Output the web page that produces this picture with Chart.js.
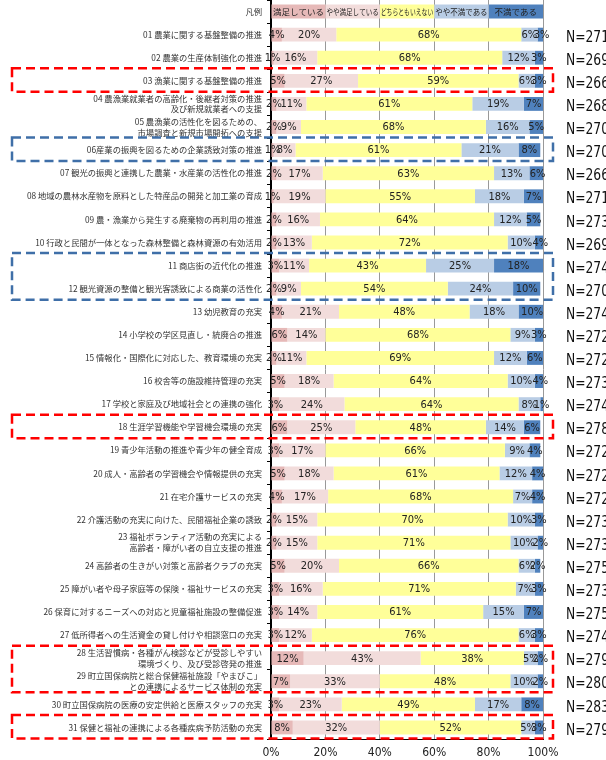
<!DOCTYPE html>
<html>
<head>
<meta charset="utf-8">
<script src="https://cdn.jsdelivr.net/npm/chart.js@4/dist/chart.umd.min.js"></script>
<style>
  html, body { margin: 0; padding: 0; background: #fff; }
</style>
</head>
<body>
<canvas id="chart" width="606" height="760"></canvas>
<script>
const JP = "'Noto Sans CJK JP', sans-serif";
const NARROW = "'Liberation Sans Narrow', 'Arial Narrow', 'DejaVu Sans Condensed', sans-serif";

// legend row shown as the first bar
const legendTitle = '凡例';
const seriesNames = ['満足している', 'やや満足している', 'どちらともいえない', 'やや不満である', '不満である'];
const seriesColors = ['#e6b9b8', '#f2dcdb', '#ffff99', '#b9cde5', '#4f81bd'];

const items = [
  '01 農業に関する基盤整備の推進',
  '02 農業の生産体制強化の推進',
  '03 漁業に関する基盤整備の推進',
  ['04 農漁業就業者の高齢化・後継者対策の推進', '及び新規就業者への支援'],
  ['05 農漁業の活性化を図るための、', '市場調査と新規市場開拓への支援'],
  '06産業の振興を図るための企業誘致対策の推進',
  '07 観光の振興と連携した農業・水産業の活性化の推進',
  '08 地域の農林水産物を原料とした特産品の開発と加工業の育成',
  '09 農・漁業から発生する廃棄物の再利用の推進',
  '10 行政と民間が一体となった森林整備と森林資源の有効活用',
  '11 商店街の近代化の推進',
  '12 観光資源の整備と観光客誘致による商業の活性化',
  '13 幼児教育の充実',
  '14 小学校の学区見直し・統廃合の推進',
  '15 情報化・国際化に対応した、教育環境の充実',
  '16 校舎等の施設維持管理の充実',
  '17 学校と家庭及び地域社会との連携の強化',
  '18 生涯学習機能や学習機会環境の充実',
  '19 青少年活動の推進や青少年の健全育成',
  '20 成人・高齢者の学習機会や情報提供の充実',
  '21 在宅介護サービスの充実',
  '22 介護活動の充実に向けた、民間福祉企業の誘致',
  ['23 福祉ボランティア活動の充実による', '高齢者・障がい者の自立支援の推進'],
  '24 高齢者の生きがい対策と高齢者クラブの充実',
  '25 障がい者や母子家庭等の保険・福祉サービスの充実',
  '26 保育に対するニーズへの対応と児童福祉施設の整備促進',
  '27 低所得者への生活資金の貸し付けや相談窓口の充実',
  ['28 生活習慣病・各種がん検診などが受診しやすい', '環境づくり、及び受診啓発の推進'],
  ['29 町立国保病院と総合保健福祉施設「やまびこ」', 'との連携によるサービス体制の充実'],
  '30 町立国保病院の医療の安定供給と医療スタッフの充実',
  '31 保健と福祉の連携による各種疾病予防活動の充実'
];

const satisfied    = [4, 1, 5, 2, 2, 1, 2, 1, 2, 2, 3, 2, 4, 6, 2, 5, 3, 6, 3, 5, 4, 2, 2, 5, 3, 3, 3, 12, 7, 3, 8];
const ratherSat    = [20, 16, 27, 11, 9, 8, 17, 19, 16, 13, 11, 9, 21, 14, 11, 18, 24, 25, 17, 18, 17, 15, 15, 20, 16, 14, 12, 43, 33, 23, 32];
const neutral      = [68, 68, 59, 61, 68, 61, 63, 55, 64, 72, 43, 54, 48, 68, 69, 64, 64, 48, 66, 61, 68, 70, 71, 66, 71, 61, 76, 38, 48, 49, 52];
const ratherDis    = [6, 12, 6, 19, 16, 21, 13, 18, 12, 10, 25, 24, 18, 9, 12, 10, 8, 14, 9, 12, 7, 10, 10, 6, 7, 15, 6, 5, 10, 17, 5];
const dissatisfied = [3, 3, 3, 7, 5, 8, 6, 7, 5, 4, 18, 10, 10, 3, 6, 4, 1, 6, 4, 4, 4, 3, 2, 2, 3, 7, 3, 2, 2, 8, 3];
const nCounts = [271, 269, 266, 268, 270, 270, 266, 271, 273, 269, 274, 270, 274, 272, 272, 273, 274, 278, 272, 272, 272, 273, 273, 275, 273, 275, 274, 279, 280, 283, 279];

// highlighted items (item numbers), drawn as dashed frames
const redFrames = [[3, 3], [18, 18], [28, 29], [31, 31]];
const blueFrames = [[6, 6], [11, 12]];

const labels = [legendTitle].concat(items);
const series = [satisfied, ratherSat, neutral, ratherDis, dissatisfied];

// each legend block is an even fifth of the first bar
const datasets = series.map((values, i) => ({
  label: seriesNames[i],
  data: [20].concat(values),
  backgroundColor: seriesColors[i],
  borderWidth: 0,
  barPercentage: 0.6,
  categoryPercentage: 1.0
}));

const barLabels = {
  id: 'barLabels',
  afterDatasetsDraw(chart) {
    const ctx = chart.ctx;
    ctx.save();
    ctx.textAlign = 'center';
    ctx.textBaseline = 'middle';
    ctx.fillStyle = '#222';
    chart.data.datasets.forEach((ds, di) => {
      chart.getDatasetMeta(di).data.forEach((bar, i) => {
        const cx = (bar.x + bar.base) / 2;
        if (i === 0) {
          ctx.font = '8.5px ' + JP;
          ctx.fillText(ds.label, cx, bar.y + 0.5, Math.abs(bar.x - bar.base) - 2);
        } else {
          ctx.font = '11px ' + NARROW;
          ctx.fillText(ds.data[i] + '%', cx, bar.y + 0.5);
        }
      });
    });
    ctx.restore();
  }
};

// respondent counts to the right of each bar (narrow face, squeezed to width)
const countLabels = {
  id: 'countLabels',
  afterDraw(chart) {
    const ctx = chart.ctx;
    const y = chart.scales.y;
    const x0 = chart.chartArea.right + 23;
    ctx.save();
    ctx.font = '16px ' + NARROW;
    ctx.fillStyle = '#111';
    ctx.textAlign = 'left';
    ctx.textBaseline = 'middle';
    nCounts.forEach((n, i) => {
      ctx.fillText('N=' + n, x0, y.getPixelForValue(i + 1) + 3, 43);
    });
    ctx.restore();
  }
};

const frames = {
  id: 'frames',
  afterDraw(chart) {
    const ctx = chart.ctx;
    const y = chart.scales.y;
    const right = chart.chartArea.right + 10;
    ctx.save();
    ctx.lineWidth = 2.5;
    ctx.setLineDash([9, 5]);
    const draw = (list, color) => {
      ctx.strokeStyle = color;
      list.forEach(([from, to]) => {
        const top = y.getPixelForValue(from) - 12.5;
        const bottom = y.getPixelForValue(to) + 11;
        ctx.strokeRect(12, top, right - 12, bottom - top);
      });
    };
    draw(redFrames, '#ff0000');
    draw(blueFrames, '#3f6fa8');
    ctx.restore();
  }
};

// keep label overhang from shrinking the plot area
const noOverhang = axis => {
  axis.paddingTop = 0;
  axis.paddingBottom = 0;
  axis.paddingLeft = 0;
  axis.paddingRight = 0;
};

new Chart(document.getElementById('chart'), {
  type: 'bar',
  data: { labels: labels, datasets: datasets },
  plugins: [barLabels, countLabels, frames],
  options: {
    indexAxis: 'y',
    responsive: false,
    animation: false,
    layout: { padding: { top: 0, right: 63, bottom: 0, left: 0 } },
    plugins: {
      legend: { display: false },
      tooltip: { enabled: false }
    },
    scales: {
      x: {
        stacked: true,
        min: 0,
        max: 100,
        ticks: {
          stepSize: 20,
          padding: 7,
          color: '#222',
          font: { family: NARROW, size: 12 },
          callback: v => v + '%'
        },
        grid: { color: '#999', lineWidth: 1, drawTicks: false },
        border: { color: '#000', width: 1 },
        afterFit: axis => { axis.height = 21; noOverhang(axis); }
      },
      y: {
        stacked: true,
        ticks: {
          padding: 5,
          color: '#333',
          font: { family: JP, size: 8.3, lineHeight: 1.3 },
          autoSkip: false
        },
        grid: { offset: true, drawOnChartArea: false, tickLength: 4, color: '#000' },
        border: { color: '#000', width: 2 },
        afterFit: axis => { axis.width = 271; noOverhang(axis); }
      }
    }
  }
});
</script>
</body>
</html>
